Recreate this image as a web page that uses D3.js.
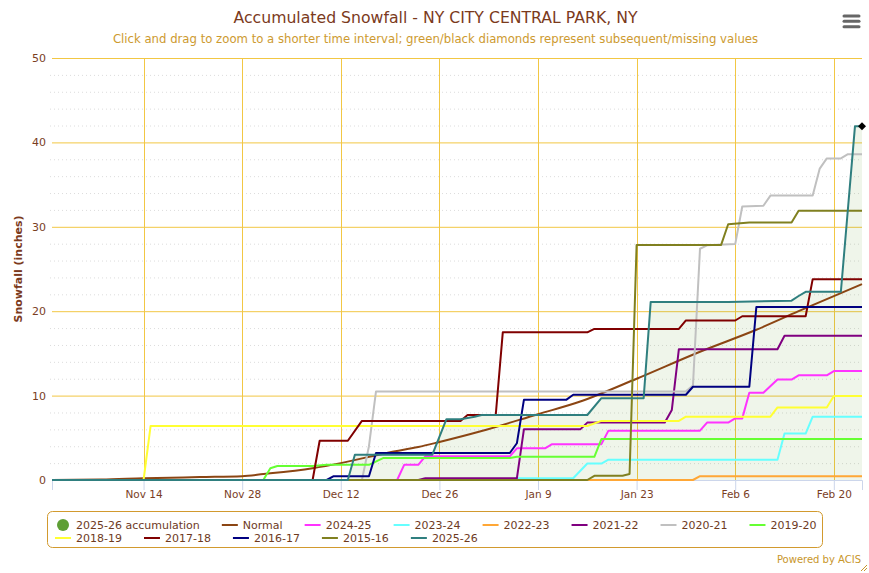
<!DOCTYPE html>
<html lang="en">
<head>
<meta charset="UTF-8">
<title>Accumulated Snowfall - NY CITY CENTRAL PARK, NY</title>
<script src="https://d3js.org/d3.v7.min.js"></script>
<style>
  body { margin: 0; padding: 0; background: #fff; font-family: "DejaVu Sans", sans-serif; }
  svg { display: block; }
  .title { fill: #7b3a1c; font-size: 15.7px; text-anchor: middle; }
  .subtitle { fill: #cd9a30; font-size: 11.7px; text-anchor: middle; }
  .axis-title { fill: #7b3a1c; font-size: 11px; font-weight: bold; text-anchor: middle; }
  .axis text { fill: #7a3e1f; font-family: "DejaVu Sans", sans-serif; }
  .legend text { fill: #6e3a1e; font-size: 11px; }
  .credit { fill: #c8962a; font-size: 10px; text-anchor: end; }
  .season { fill: none; stroke-width: 2px; stroke-linejoin: round; }
</style>
</head>
<body>
<svg id="chart" width="869" height="573"></svg>
<script>
// accumulated snowfall (inches) at season day "MM-DD"
const normal = [["11-01", 0], ["11-08", 0.05], ["11-14", 0.2], ["11-22", 0.35], ["11-28", 0.45],
  ["12-01", 0.7], ["12-08", 1.4], ["12-12", 2.0], ["12-19", 3.3], ["12-23", 3.9], ["12-26", 4.5],
  ["01-01", 5.8], ["01-09", 7.8], ["01-15", 9.3], ["01-23", 12.0], ["02-01", 15.2], ["02-09", 17.8],
  ["02-15", 20.0], ["02-24", 23.2]];

const s2425 = [["11-01", 0], ["12-20", 0], ["12-21", 1.8], ["12-23", 1.8], ["12-24", 2.8], ["01-05", 2.8],
  ["01-06", 3.75], ["01-10", 3.75], ["01-11", 4.25], ["01-18", 4.25], ["01-19", 5.85], ["02-01", 5.85],
  ["02-02", 6.8], ["02-05", 6.8], ["02-06", 7.3], ["02-07", 7.3], ["02-08", 10.35], ["02-10", 10.35],
  ["02-12", 11.9], ["02-14", 11.9], ["02-15", 12.4], ["02-19", 12.4], ["02-20", 12.9], ["02-24", 12.9]];

const s2324 = [["11-01", 0], ["01-05", 0], ["01-06", 0.2], ["01-14", 0.2], ["01-16", 1.95], ["01-18", 1.95],
  ["01-19", 2.4], ["02-12", 2.4], ["02-13", 5.5], ["02-16", 5.5], ["02-17", 7.5], ["02-24", 7.5]];

const s2223 = [["11-01", 0], ["01-31", 0], ["02-01", 0.45], ["02-24", 0.45]];

const s2122 = [["11-01", 0], ["12-23", 0], ["12-24", 0.2], ["01-06", 0.2], ["01-07", 6.0], ["01-15", 6.0],
  ["01-16", 6.8], ["01-27", 6.8], ["01-28", 8.3], ["01-29", 15.5], ["02-12", 15.5], ["02-13", 17.1],
  ["02-24", 17.1]];

const s2021 = [["11-01", 0], ["12-15", 0], ["12-16", 4.0], ["12-17", 10.5], ["01-30", 10.5], ["01-31", 11.2],
  ["02-01", 27.4], ["02-02", 27.8], ["02-06", 27.95], ["02-07", 32.4], ["02-10", 32.5], ["02-11", 33.7],
  ["02-17", 33.7], ["02-18", 36.9], ["02-19", 38.1], ["02-21", 38.1], ["02-22", 38.6], ["02-24", 38.6]];

const s1920 = [["11-01", 0], ["12-01", 0], ["12-02", 1.4], ["12-03", 1.65], ["12-08", 1.65], ["12-10", 1.8],
  ["12-16", 1.8], ["12-18", 2.6], ["01-05", 2.6], ["01-06", 2.75], ["01-17", 2.75], ["01-18", 4.85],
  ["02-24", 4.85]];

const s1819 = [["11-01", 0], ["11-14", 0], ["11-15", 6.4], ["01-16", 6.4], ["01-18", 7.0], ["01-29", 7.0],
  ["01-30", 7.5], ["02-11", 7.5], ["02-12", 8.6], ["02-19", 8.6], ["02-20", 9.95], ["02-24", 9.95]];

const s1718 = [["11-01", 0], ["12-08", 0], ["12-09", 4.65], ["12-13", 4.65], ["12-15", 7.0], ["12-29", 7.0],
  ["12-30", 7.7], ["01-03", 7.7], ["01-04", 17.5], ["01-16", 17.5], ["01-17", 17.9], ["01-29", 17.9],
  ["01-30", 18.9], ["02-06", 18.9], ["02-07", 19.4], ["02-16", 19.4], ["02-17", 23.8], ["02-24", 23.8]];

const s1617 = [["11-01", 0], ["12-10", 0], ["12-11", 0.45], ["12-16", 0.45], ["12-17", 3.2], ["01-05", 3.2],
  ["01-06", 4.35], ["01-07", 9.5], ["01-13", 9.5], ["01-14", 10.1], ["01-30", 10.1], ["01-31", 11.05],
  ["02-08", 11.05], ["02-09", 20.5], ["02-24", 20.5]];

const s1516 = [["11-01", 0], ["01-16", 0], ["01-17", 0.5], ["01-21", 0.5], ["01-22", 0.7], ["01-23", 27.85],
  ["02-04", 27.85], ["02-05", 30.3], ["02-08", 30.5], ["02-14", 30.5], ["02-15", 31.9], ["02-24", 31.9]];

const s2526 = [["11-01", 0], ["12-13", 0], ["12-14", 3.0], ["12-25", 3.0], ["12-27", 7.2], ["12-29", 7.2],
  ["12-31", 7.5], ["01-01", 7.7], ["01-16", 7.7], ["01-18", 9.7], ["01-24", 9.7], ["01-25", 21.1],
  ["02-05", 21.1], ["02-14", 21.25], ["02-15", 21.8], ["02-16", 22.3], ["02-21", 22.3], ["02-23", 41.9],
  ["02-24", 41.9]];

const seriesNames = ["Normal", "2024-25", "2023-24", "2022-23", "2021-22", "2020-21", "2019-20",
  "2018-19", "2017-18", "2016-17", "2015-16", "2025-26"];
const seriesData = [normal, s2425, s2324, s2223, s2122, s2021, s1920, s1819, s1718, s1617, s1516, s2526];

const accumulationName = "2025-26 accumulation";
const missingDays = [["02-24", 41.9]];

const xTicks = ["11-14", "11-28", "12-12", "12-26", "01-09", "01-23", "02-06", "02-20"];
const yTicks = [0, 10, 20, 30, 40, 50];
const xDomain = ["11-01", "02-24"];

const colors = {
  "Normal": "#8b4513", "2024-25": "#ff33ff", "2023-24": "#66ffff", "2022-23": "#ffa736",
  "2021-22": "#800080", "2020-21": "#c0c0c0", "2019-20": "#66ff33", "2018-19": "#ffff33",
  "2017-18": "#800000", "2016-17": "#000080", "2015-16": "#808020", "2025-26": "#2f7f7f"
};
const accumulationColor = "#5e9f35";
const gridColor = "#f2c744";

// season runs Nov..Feb: Aug-Dec belong to 2025, Jan-Jul to 2026
function parseDay(md) {
  const [m, d] = md.split("-").map(Number);
  return new Date(m >= 8 ? 2025 : 2026, m - 1, d);
}

const W = 869, H = 573;
const margin = { top: 58, right: 7, bottom: 93, left: 52 };
const svg = d3.select("#chart");

const x = d3.scaleTime()
  .domain(xDomain.map(parseDay))
  .range([margin.left, W - margin.right]);

const y = d3.scaleLinear()
  .domain([0, 50])
  .range([H - margin.bottom, margin.top]);

// titles
svg.append("text").attr("class", "title").attr("x", 435.5).attr("y", 22.5)
  .text("Accumulated Snowfall - NY CITY CENTRAL PARK, NY");
svg.append("text").attr("class", "subtitle").attr("x", 435.5).attr("y", 42.5)
  .text("Click and drag to zoom to a shorter time interval; green/black diamonds represent subsequent/missing values");

// hamburger menu
svg.append("g").selectAll("line")
  .data([16, 21.3, 26.7])
  .join("line")
  .attr("x1", 844).attr("x2", 859)
  .attr("y1", d => d).attr("y2", d => d)
  .attr("stroke", "#666").attr("stroke-width", 3).attr("stroke-linecap", "round");

// minor dotted grid
svg.append("g").selectAll("line")
  .data(y.ticks(25).filter(v => !yTicks.includes(v)))
  .join("line")
  .attr("x1", margin.left - 2).attr("x2", W - margin.right)
  .attr("y1", d => y(d) + 0.5).attr("y2", d => y(d) + 0.5)
  .attr("stroke", "#dcdcdc").attr("stroke-dasharray", "1,3");

// major grid
svg.append("g").selectAll("line")
  .data(yTicks)
  .join("line")
  .attr("x1", margin.left).attr("x2", W - margin.right)
  .attr("y1", d => y(d) + 0.5).attr("y2", d => y(d) + 0.5)
  .attr("stroke", gridColor);

svg.append("g").selectAll("line")
  .data(xTicks.map(parseDay))
  .join("line")
  .attr("x1", d => Math.round(x(d)) + 0.5).attr("x2", d => Math.round(x(d)) + 0.5)
  .attr("y1", margin.top).attr("y2", y(0))
  .attr("stroke", gridColor);

// axes
const xAxis = svg.append("g")
  .attr("class", "axis")
  .attr("transform", `translate(0,${y(0)})`)
  .call(d3.axisBottom(x)
    .tickValues(xTicks.map(parseDay))
    .tickFormat(d3.timeFormat("%b %-d"))
    .tickSize(10)
    .tickPadding(1));
xAxis.select(".domain").attr("stroke", "#ccd6eb");
xAxis.selectAll(".tick line").attr("stroke", "#ccd6eb");
xAxis.selectAll("text").style("font-size", "10.5px");

const yAxis = svg.append("g")
  .attr("class", "axis")
  .attr("transform", `translate(${margin.left},0)`)
  .call(d3.axisLeft(y).tickValues(yTicks).tickSize(0).tickPadding(6));
yAxis.select(".domain").remove();
yAxis.selectAll("text").style("font-size", "11px");

svg.append("text").attr("class", "axis-title")
  .attr("transform", `translate(22,269) rotate(-90)`)
  .text("Snowfall (inches)");

// accumulation area
svg.append("path")
  .datum(s2526)
  .attr("fill", accumulationColor)
  .attr("fill-opacity", 0.1)
  .attr("d", d3.area()
    .x(d => x(parseDay(d[0])))
    .y0(y(0))
    .y1(d => y(d[1])));

// season lines
seriesNames.forEach((name, i) => {
  svg.append("path")
    .datum(seriesData[i])
    .attr("class", "season")
    .attr("stroke", colors[name])
    .attr("d", d3.line()
      .curve(name === "Normal" ? d3.curveMonotoneX : d3.curveLinear)
      .x(d => x(parseDay(d[0])))
      .y(d => y(d[1])));
});

// missing value diamond
svg.append("g").selectAll("path")
  .data(missingDays)
  .join("path")
  .attr("transform", d => `translate(${x(parseDay(d[0]))},${y(d[1])})`)
  .attr("d", "M0,-4L4,0L0,4L-4,0Z")
  .attr("fill", "#000");

// legend
const legend = svg.append("g").attr("class", "legend");
legend.append("rect")
  .attr("x", 47.5).attr("y", 511.5)
  .attr("width", 775).attr("height", 36)
  .attr("rx", 5)
  .attr("fill", "none").attr("stroke", "#d29a2e");

const items = [{ name: accumulationName, circle: true }]
  .concat(seriesNames.map(n => ({ name: n, circle: false })));
const rowBreak = 8;
let lx = 55;
items.forEach((it, i) => {
  if (i === rowBreak) lx = 55;
  const row = i < rowBreak ? 0 : 1;
  const cy = 525 + row * 13;
  const g = legend.append("g");
  if (it.circle) {
    g.append("circle").attr("cx", lx + 8).attr("cy", cy).attr("r", 6).attr("fill", accumulationColor);
  } else {
    g.append("line").attr("x1", lx).attr("x2", lx + 16).attr("y1", cy).attr("y2", cy)
      .attr("stroke", colors[it.name]).attr("stroke-width", 2);
  }
  const t = g.append("text").attr("x", lx + 21).attr("y", cy + 4).text(it.name);
  lx += 21 + t.node().getComputedTextLength() + 22;
});

// credit
svg.append("text").attr("class", "credit").attr("x", 861).attr("y", 563).text("Powered by ACIS");
svg.append("g").selectAll("line")
  .data([0, 3, 6])
  .join("line")
  .attr("x1", d => 861 + d).attr("y1", 571)
  .attr("x2", 867).attr("y2", d => 565 + d)
  .attr("stroke", "#c8962a").attr("stroke-width", 1);
</script>
</body>
</html>
